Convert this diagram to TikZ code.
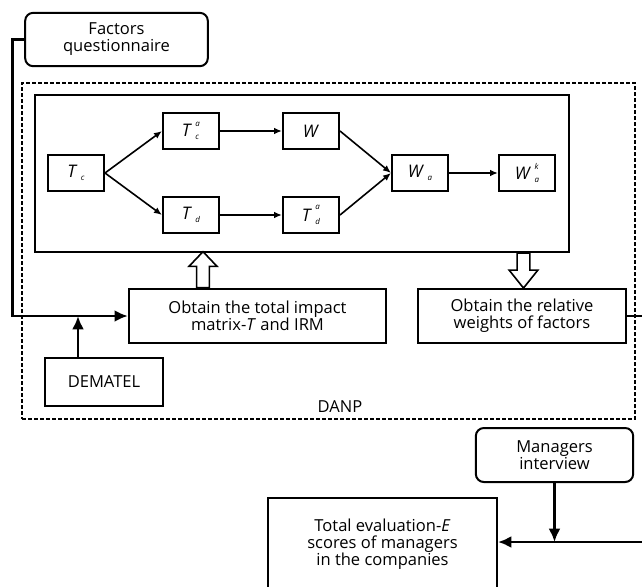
\documentclass[tikz,border=0pt]{standalone}
\usepackage{fontspec}
\setmainfont{Open Sans}
\usetikzlibrary{arrows.meta,positioning}
\newcommand{\mvar}[3]{\textit{#1}\kern2.5pt\raisebox{-0.35ex}{\shortstack[l]{\fontsize{6}{6}\selectfont\itshape #2\\[3.5pt]\fontsize{6}{6}\selectfont\itshape #3}}}

\begin{document}
\begin{tikzpicture}[x=0.75pt,y=-0.75pt,>=Latex,
mbox/.style={draw,line width=1.5pt,minimum width=42pt,minimum height=27pt,inner sep=1pt,font=\fontsize{13}{14}\selectfont},
pbox/.style={draw,line width=1.5pt,align=center,inner sep=1pt,font=\fontsize{12.4}{12.8}\selectfont},
rbox/.style={pbox,rounded corners=6pt},
link/.style={-{Latex[length=6pt,width=5pt]},line width=1.2pt},
feed/.style={line width=2.2pt},
feedarrow/.style={feed,-{Latex[length=10pt,width=9pt]}},
hollow/.style={draw,line width=1.2pt,fill=white}]
\clip (0,0) rectangle (642,586);
% DANP frame
\node[draw,dashed,line width=0.8pt,dash pattern=on 3pt off 1.5pt,minimum width=459.75pt,minimum height=252pt] (danp) at (328.5,251) {};
\node[font=\fontsize{12.4}{13}\selectfont] (danplabel) at (340,407) {DANP};
\node[draw,line width=1.5pt,minimum width=400.5pt,minimum height=117.75pt] (network) at (302,173.5) {};
% supermatrix steps
\node[mbox] (tc) at (76,173) {\mvar{T}{}{c}};
\node[mbox] (tca) at (191,131) {\mvar{T}{a}{c}};
\node[mbox] (w) at (311,131) {\textit{W}};
\node[mbox] (td) at (191,215) {\mvar{T}{}{d}};
\node[mbox] (tda) at (311,215) {\mvar{T}{a}{d}};
\node[mbox] (wa) at (420,173) {\mvar{W}{}{a}};
\node[mbox] (wak) at (527,173) {\mvar{W}{k}{a}};
\draw[link] (tc.east) -- (tca.west);
\draw[link] (tc.east) -- (td.west);
\draw[link] (tca) -- (w);
\draw[link] (td) -- (tda);
\draw[link] (w.east) -- (wa.west);
\draw[link] (tda.east) -- (wa.west);
\draw[link] (wa) -- (wak);
% process boxes
\node[rbox,minimum width=137pt,minimum height=40pt] (factors) at (116.5,39.5) {Factors\\questionnaire};
\node[pbox,minimum width=193pt,minimum height=41pt] (total) at (257.5,316) {Obtain the total impact\\matrix-\textit{T} and IRM};
\node[pbox,minimum width=156pt,minimum height=40.5pt] (relative) at (522,316) {Obtain the relative\\weights of factors};
\node[pbox,minimum width=88.5pt,minimum height=36pt] (dematel) at (104,382) {DEMATEL};
\node[rbox,minimum width=118pt,minimum height=40.5pt] (managers) at (554.5,455) {Managers\\interview};
\node[pbox,line width=1.2pt,minimum width=172pt,minimum height=69pt] (evaluation) at (382.5,544) {Total evaluation-\textit{E}\\scores of managers\\in the companies};
% hollow arrows
\path (total.north -| 203,0) coordinate (up);
\draw[hollow] (up) ++(-4.8pt,0) -- ++(0,16pt) -- ++(-5.7pt,0) -- ++(10.5pt,11pt) -- ++(10.5pt,-11pt) -- ++(-5.7pt,0) -- ++(0,-16pt) -- cycle;
\path (network.south -| 523.5,0) coordinate (down);
\draw[hollow] (down) ++(-4.8pt,0) -- ++(0,-12.8pt) -- ++(-6pt,0) -- ++(10.8pt,-13.5pt) -- ++(10.8pt,13.5pt) -- ++(-6pt,0) -- ++(0,12.8pt) -- cycle;
% outer links
\coordinate (dx) at (78,0);
\coordinate (rout) at (648,0);
\coordinate (ein) at (648,542);
\draw[feedarrow] (factors.west) -- ++(-12,0) |- (total.west);
\draw[feedarrow] (dematel.north -| dx) -- (total.west -| dx);
\draw[feed] (relative.east) -- (relative.east -| rout);
\draw[feedarrow] (managers.south) -- (managers.south |- ein);
\draw[feedarrow] (ein) -- (evaluation.east |- ein);
\end{tikzpicture}
\end{document}
